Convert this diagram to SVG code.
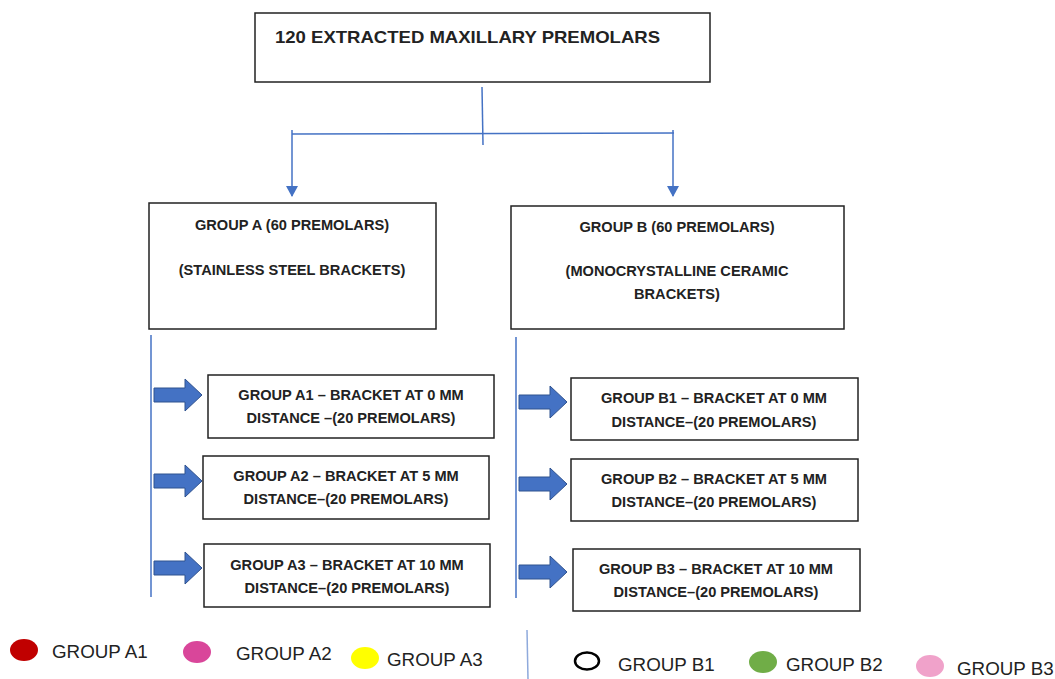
<svg xmlns="http://www.w3.org/2000/svg" width="1055" height="679" viewBox="0 0 1055 679">
<defs>
<style>
.box{fill:#fff;stroke:#222;stroke-width:1.5}
.t{font-family:"Liberation Sans",Arial,sans-serif;font-weight:bold;font-size:14.6px;fill:#222;text-anchor:middle}
.lg{font-family:"Liberation Sans",Arial,sans-serif;font-size:18.8px;fill:#222}
.ln{stroke:#4472C4;stroke-width:1.5;fill:none}
.ba{fill:#4472C4;stroke:#2F528F;stroke-width:1}
</style>
<marker id="ah" markerWidth="11" markerHeight="12" refX="10" refY="6" orient="auto" markerUnits="userSpaceOnUse" viewBox="0 0 11 12">
<path d="M0,0 L11,6 L0,12 Z" fill="#4472C4"/>
</marker>
<path id="blk" d="M0,-7 L31,-7 L31,-16 L48,0 L31,16 L31,7 L0,7 Z"/>
</defs>
<rect width="1055" height="679" fill="#fff"/>
<g id="connectors">
<line class="ln" x1="482" y1="87" x2="483" y2="145"/>
<line class="ln" x1="292" y1="134" x2="674" y2="133"/>
<line class="ln" x1="292" y1="130" x2="292" y2="196" marker-end="url(#ah)"/>
<line class="ln" x1="673" y1="130" x2="673" y2="196" marker-end="url(#ah)"/>
<line class="ln" x1="151" y1="335" x2="151" y2="597"/>
<line class="ln" x1="516" y1="337" x2="516" y2="598"/>
<use href="#blk" class="ba" x="154" y="395"/>
<use href="#blk" class="ba" x="154" y="481"/>
<use href="#blk" class="ba" x="154" y="568"/>
<use href="#blk" class="ba" x="519" y="402"/>
<use href="#blk" class="ba" x="519" y="484"/>
<use href="#blk" class="ba" x="519" y="572"/>
</g>
<g id="top">
<rect class="box" x="255" y="13" width="455" height="69"/>
<text class="t" x="275" y="43" style="text-anchor:start;font-size:16.5px" textLength="385" lengthAdjust="spacingAndGlyphs">120 EXTRACTED MAXILLARY PREMOLARS</text>
</g>
<g id="groupA">
<rect class="box" x="149" y="203" width="287" height="126"/>
<text class="t" x="292" y="230">GROUP A (60 PREMOLARS)</text>
<text class="t" x="292" y="275">(STAINLESS STEEL BRACKETS)</text>
</g>
<g id="groupB">
<rect class="box" x="511" y="206" width="333" height="123"/>
<text class="t" x="677" y="232">GROUP B (60 PREMOLARS)</text>
<text class="t" x="677" y="276">(MONOCRYSTALLINE CERAMIC</text>
<text class="t" x="677" y="299">BRACKETS)</text>
</g>
<g id="A1">
<rect class="box" x="208" y="375" width="286" height="63"/>
<text class="t" x="351" y="400">GROUP A1 – BRACKET AT 0 MM</text>
<text class="t" x="351" y="423">DISTANCE –(20 PREMOLARS)</text>
</g>
<g id="A2">
<rect class="box" x="203" y="456" width="286" height="63"/>
<text class="t" x="346" y="481">GROUP A2 – BRACKET AT 5 MM</text>
<text class="t" x="346" y="504">DISTANCE–(20 PREMOLARS)</text>
</g>
<g id="A3">
<rect class="box" x="204" y="544" width="286" height="63"/>
<text class="t" x="347" y="570">GROUP A3 – BRACKET AT 10 MM</text>
<text class="t" x="347" y="593">DISTANCE–(20 PREMOLARS)</text>
</g>
<g id="B1">
<rect class="box" x="571" y="378" width="287" height="62"/>
<text class="t" x="714" y="403">GROUP B1 – BRACKET AT 0 MM</text>
<text class="t" x="714" y="427">DISTANCE–(20 PREMOLARS)</text>
</g>
<g id="B2">
<rect class="box" x="571" y="459" width="287" height="62"/>
<text class="t" x="714" y="484">GROUP B2 – BRACKET AT 5 MM</text>
<text class="t" x="714" y="507">DISTANCE–(20 PREMOLARS)</text>
</g>
<g id="B3">
<rect class="box" x="573" y="549" width="287" height="62"/>
<text class="t" x="716" y="574">GROUP B3 – BRACKET AT 10 MM</text>
<text class="t" x="716" y="597">DISTANCE–(20 PREMOLARS)</text>
</g>
<g id="legend">
<ellipse cx="24" cy="650" rx="14" ry="11" fill="#C00000"/>
<text class="lg" x="52" y="658">GROUP A1</text>
<ellipse cx="197" cy="652" rx="14" ry="11" fill="#D9469A"/>
<text class="lg" x="236" y="660">GROUP A2</text>
<ellipse cx="365" cy="658" rx="14" ry="11" fill="#FFFF00"/>
<text class="lg" x="387" y="666">GROUP A3</text>
<line x1="527" y1="630" x2="528" y2="679" stroke="#8FAADC" stroke-width="1.5"/>
<ellipse cx="587" cy="661" rx="12" ry="8.5" fill="none" stroke="#000" stroke-width="2.5"/>
<text class="lg" x="618" y="671">GROUP B1</text>
<ellipse cx="763" cy="662" rx="14" ry="11" fill="#70AD47"/>
<text class="lg" x="786" y="671">GROUP B2</text>
<ellipse cx="930" cy="666" rx="14" ry="11" fill="#F0A2CA"/>
<text class="lg" x="957" y="675">GROUP B3</text>
</g>
</svg>
